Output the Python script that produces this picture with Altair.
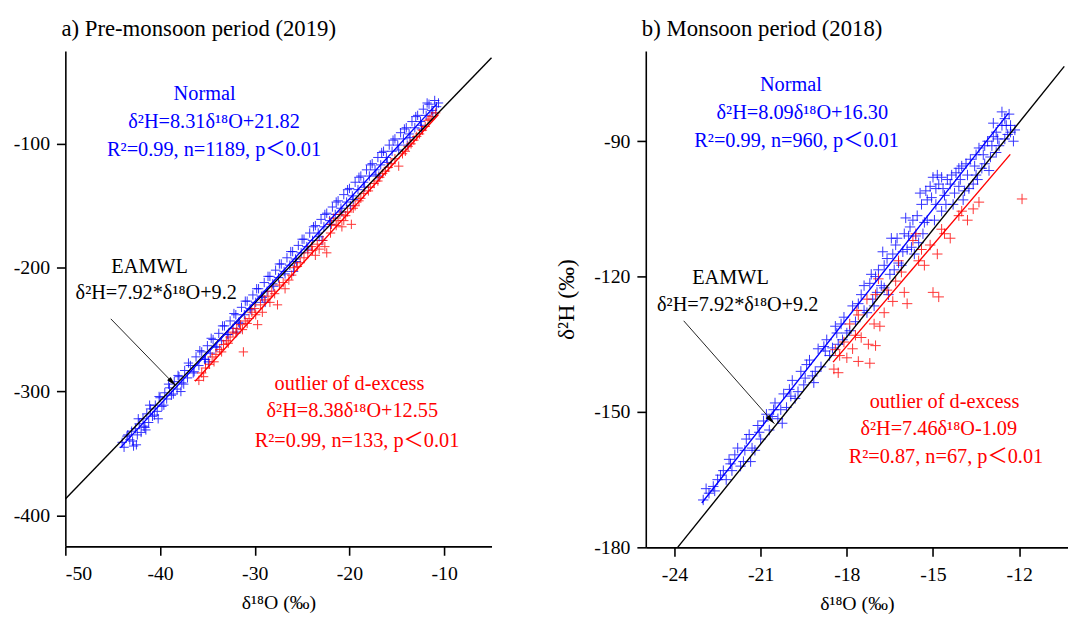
import altair as alt
import pandas as pd

SERIF = "'Liberation Serif', 'Times New Roman', 'DejaVu Serif', 'Noto Sans CJK SC', serif"
BLUE = "#0000FF"
RED = "#FF0000"
CROSS = "M-1,0L1,0M0,-1L0,1"
HEAD = "M0,0L-0.5,2L0.5,2Z"

# ---------------- data: panel a (pre-monsoon 2019) ----------------
a_blue = [
    (-44.0, -341), (-43.8, -345), (-43.5, -336), (-43.2, -339), (-43.0, -332), (-42.8, -344),
    (-42.6, -330), (-42.5, -343), (-42.4, -335), (-42.2, -326), (-42.0, -333), (-41.8, -322),
    (-41.6, -329), (-41.5, -331), (-41.4, -318), (-41.2, -325), (-41.0, -314), (-40.8, -320),
    (-40.5, -311), (-40.3, -316), (-40.2, -322), (-40.0, -305), (-39.8, -312), (-39.5, -301),
    (-39.3, -306), (-39.0, -297), (-38.8, -303), (-38.5, -292), (-38.2, -298), (-38.0, -288),
    (-37.8, -300), (-37.7, -293), (-37.4, -283), (-37.1, -289), (-36.8, -279), (-36.5, -285),
    (-36.2, -272), (-35.9, -279), (-35.6, -268), (-35.3, -274), (-35.0, -263), (-34.9, -276),
    (-34.7, -269), (-34.4, -258), (-34.1, -264), (-33.8, -253), (-33.5, -259), (-33.2, -247),
    (-32.9, -254), (-32.6, -243), (-32.3, -249), (-32.0, -238), (-31.9, -252), (-31.7, -244),
    (-31.4, -232), (-31.1, -238), (-30.8, -227), (-30.5, -233), (-30.2, -222), (-29.9, -228),
    (-29.6, -217), (-29.3, -223), (-29.0, -212), (-28.9, -228), (-28.7, -219), (-28.4, -207),
    (-28.1, -213), (-27.8, -202), (-27.5, -208), (-27.2, -197), (-26.9, -203), (-26.6, -192),
    (-26.3, -198), (-26.0, -187), (-25.9, -203), (-25.7, -193), (-25.4, -182), (-25.1, -188),
    (-24.8, -177), (-24.5, -183), (-24.2, -172), (-23.9, -178), (-23.6, -166), (-23.3, -172),
    (-23.0, -161), (-22.9, -178), (-22.7, -167), (-22.4, -156), (-22.1, -162), (-21.8, -151),
    (-21.5, -157), (-21.2, -146), (-20.9, -152), (-20.6, -141), (-20.3, -147), (-20.0, -136),
    (-19.9, -150), (-19.7, -142), (-19.4, -131), (-19.1, -137), (-18.8, -126), (-18.5, -131),
    (-18.2, -121), (-17.9, -126), (-17.6, -116), (-17.3, -121), (-17.0, -111), (-16.9, -126),
    (-16.7, -117), (-16.4, -106), (-16.1, -111), (-15.8, -101), (-15.5, -106), (-15.2, -96),
    (-14.9, -101), (-14.6, -91), (-14.3, -96), (-14.0, -87), (-13.9, -101), (-13.7, -92),
    (-13.4, -82), (-13.1, -87), (-12.8, -77), (-12.5, -82), (-12.4, -88), (-12.2, -72),
    (-11.9, -77), (-11.6, -68), (-11.3, -73), (-11.0, -65), (-10.8, -70), (-10.6, -67),
    (-43.4, -335), (-42.9, -340), (-42.3, -322), (-41.7, -328), (-41.1, -311), (-40.6, -319),
    (-40.1, -304), (-39.6, -311), (-39.1, -294), (-38.6, -302), (-38.1, -287), (-37.5, -294),
    (-37.0, -277), (-36.4, -284), (-35.8, -267), (-35.2, -274), (-34.6, -257), (-34.0, -264),
    (-33.4, -247), (-32.8, -254), (-32.2, -237), (-31.6, -245), (-31.0, -227), (-30.4, -234),
    (-29.8, -217), (-29.2, -224), (-28.6, -207), (-28.0, -215), (-27.4, -197), (-26.8, -205),
    (-26.2, -187), (-25.6, -195), (-25.0, -177), (-24.4, -185), (-23.8, -167), (-23.2, -175),
    (-22.6, -157), (-22.0, -165), (-21.4, -147), (-20.8, -155), (-20.2, -137), (-19.6, -145),
    (-19.0, -127), (-18.4, -135), (-17.8, -117), (-17.2, -125), (-16.6, -107), (-16.0, -115),
    (-15.4, -97), (-14.8, -105), (-14.2, -88), (-13.6, -95), (-13.0, -78), (-12.4, -85),
    (-11.8, -67), (-11.2, -75),
]
a_red = [
    (-35.9, -291), (-35.6, -285), (-35.2, -281), (-34.8, -278), (-34.5, -272), (-34.1, -270),
    (-33.7, -266), (-33.3, -262), (-33.0, -259), (-32.6, -256), (-32.3, -252), (-31.9, -249),
    (-31.5, -246), (-31.2, -268), (-31.0, -243), (-30.6, -241), (-30.3, -236), (-30.0, -233),
    (-29.7, -246), (-29.4, -230), (-29.0, -226), (-28.6, -223), (-28.2, -219), (-27.6, -230),
    (-27.4, -214), (-26.8, -217), (-26.4, -210), (-25.8, -200), (-25.2, -196), (-24.4, -188),
    (-24.0, -183), (-23.6, -190), (-23.2, -185), (-22.8, -178), (-22.4, -188), (-22.0, -172),
    (-21.7, -160), (-21.4, -166), (-21.0, -157), (-20.6, -162), (-20.2, -155), (-19.8, -165),
    (-19.4, -150), (-19.0, -146), (-18.5, -140), (-18.0, -138), (-17.4, -132), (-16.8, -127),
    (-16.2, -122), (-15.6, -116), (-15.2, -112), (-14.8, -118), (-14.4, -108), (-13.8, -102),
    (-13.2, -97), (-12.6, -92), (-12.0, -86), (-11.7, -81), (-11.3, -78), (-10.9, -75),
    (-35.4, -288), (-34.3, -276), (-33.5, -268), (-32.8, -261), (-32.0, -253), (-31.3, -250),
    (-30.8, -245), (-29.9, -238), (-29.2, -236), (-28.4, -228), (-27.9, -221), (-27.0, -212),
    (-26.1, -206), (-25.5, -199), (-24.8, -192), (-23.9, -186), (-23.4, -181), (-22.6, -183),
    (-21.9, -165), (-21.2, -162), (-20.8, -167), (-20.4, -158), (-19.6, -152), (-18.8, -144),
    (-17.8, -135), (-17.0, -130), (-16.5, -124), (-15.9, -119), (-14.1, -106), (-13.5, -100),
    (-12.9, -94), (-12.3, -89), (-11.5, -80),
]

# ---------------- data: panel b (monsoon 2018) ----------------
b_blue = [
    (-23.0, -169.5), (-22.8, -168), (-22.5, -165), (-22.3, -163), (-22.1, -160.5), (-22.0, -163),
    (-21.8, -158), (-21.6, -161), (-21.5, -156), (-21.3, -158), (-21.1, -153), (-21.0, -156),
    (-20.8, -150.5), (-20.7, -154), (-20.5, -148), (-20.4, -151.5), (-20.2, -146), (-20.1, -149),
    (-19.9, -143), (-19.8, -147), (-19.6, -141), (-19.5, -144), (-19.3, -138.5), (-19.2, -142),
    (-19.0, -136), (-18.9, -140), (-18.7, -134), (-18.6, -137.5), (-18.4, -131), (-18.3, -135),
    (-18.1, -129), (-18.0, -132.5), (-17.8, -126.5), (-17.7, -130), (-17.5, -124), (-17.4, -127.5),
    (-17.2, -121.5), (-17.1, -125), (-16.9, -118.5), (-16.8, -122), (-16.6, -116), (-16.5, -119.5),
    (-16.3, -113), (-16.2, -117), (-16.0, -110.5), (-15.9, -114), (-15.7, -107.5), (-15.6, -111),
    (-15.4, -104), (-15.3, -108), (-15.1, -100), (-15.0, -98), (-14.9, -104), (-14.8, -99.5),
    (-14.6, -102), (-14.5, -98.5), (-14.3, -104), (-14.2, -97), (-14.0, -95.5), (-13.9, -101),
    (-13.7, -94), (-13.6, -99.5), (-13.4, -91.5), (-13.3, -96), (-13.1, -90), (-13.0, -93.5),
    (-12.9, -86), (-12.8, -88), (-12.7, -91), (-12.6, -83.5), (-12.5, -85), (-12.4, -88.5),
    (-12.3, -86.5), (-12.2, -90),
    (-22.9, -167), (-22.6, -167.5), (-22.4, -164), (-22.2, -165), (-21.9, -159.5), (-21.7, -162),
    (-21.4, -155), (-21.2, -158.5), (-20.9, -152), (-20.6, -151), (-20.3, -149.5), (-20.0, -145),
    (-19.7, -145.5), (-19.4, -139.5), (-19.1, -141), (-18.8, -135.5), (-18.5, -135.8),
    (-18.2, -130.5), (-17.9, -132), (-17.6, -126), (-17.3, -128), (-17.0, -120), (-16.7, -122.5),
    (-16.4, -115), (-16.1, -117.5), (-15.8, -109), (-15.5, -112.5), (-15.2, -103), (-15.2, -107.5),
    (-14.9, -100.5), (-14.7, -98), (-14.7, -105.5), (-14.4, -99.5), (-14.1, -100), (-14.1, -96),
    (-13.8, -97.5), (-13.5, -93), (-13.5, -97.5), (-13.2, -91), (-13.2, -95), (-12.9, -89),
    (-12.8, -92.5), (-12.6, -86.5), (-12.5, -89.5), (-12.35, -84), (-12.3, -88), (-17.05, -126.5),
    (-18.15, -134), (-19.15, -143.5), (-20.25, -152.5), (-21.35, -161), (-16.55, -124),
    (-15.75, -113.5), (-13.95, -103), (-15.45, -101.5), (-15.95, -107), (-16.45, -111.5),
    (-16.75, -114.5),
    (-17.4, -122), (-17.15, -119.5), (-16.95, -123.5), (-16.7, -117.5), (-16.35, -118.5),
    (-16.25, -111.5), (-16.05, -114.5), (-15.85, -111), (-15.65, -115), (-15.55, -106.5),
    (-15.35, -110.5), (-15.25, -101), (-15.05, -102.5), (-14.95, -107.5), (-14.85, -97.5),
    (-14.65, -100.5), (-14.55, -104), (-14.35, -97.5), (-14.25, -101.5), (-14.05, -98.5),
    (-13.85, -95), (-13.75, -100.5), (-13.55, -95.5), (-13.45, -98.5), (-13.25, -93),
    (-13.05, -96.5), (-12.95, -91), (-12.75, -89.5), (-12.45, -86.5), (-12.15, -87.5),
    (-18.35, -132.5), (-18.75, -136.5), (-19.45, -142.5), (-19.95, -146.5), (-20.55, -149.5),
    (-21.05, -154.5), (-21.55, -158.5), (-22.05, -161.5), (-22.65, -166.5),
]
b_red = [
    (-11.9, -102.8), (-13.6, -105), (-14.1, -106.5), (-13.8, -107.5), (-14.7, -109.5),
    (-14.4, -111.5), (-15.1, -113), (-14.85, -115), (-15.5, -116.5), (-15.3, -117.5),
    (-16.3, -121), (-16.0, -123.5), (-15.0, -123.5), (-14.8, -124.5), (-16.4, -125.5),
    (-15.9, -126), (-17.0, -124), (-16.6, -123), (-17.65, -127.5), (-17.6, -128.5),
    (-17.05, -130.5), (-16.85, -131), (-17.7, -133), (-17.5, -133.5), (-17.25, -135),
    (-17.0, -135.3), (-18.4, -136.2), (-18.25, -137.5), (-18.0, -138), (-17.6, -138.8),
    (-17.2, -139.2), (-18.45, -140.5), (-18.3, -141.3), (-15.7, -112), (-15.6, -110.5),
    (-16.2, -116.5), (-16.9, -120.5), (-17.3, -125), (-17.9, -130.5), (-16.7, -128),
    (-18.1, -134.5), (-17.8, -136), (-16.1, -119), (-15.4, -114), (-14.6, -110.5),
    (-14.0, -105.5), (-13.4, -103.5),
]

# fitted lines: (slope, intercept, x_start, x_end, colour)
a_lines = [(7.92, 9.2, -50.0, -5.0, "black"), (8.31, 21.82, -44.2, -10.8, BLUE),
           (8.38, 12.55, -36.3, -10.6, RED)]
b_lines = [(7.92, 9.2, -23.89, -10.43, "black"), (8.09, 16.30, -23.05, -12.37, BLUE),
           (7.46, -1.09, -18.48, -12.31, RED)]

a_text = ["Normal", "δ²H=8.31δ¹⁸O+21.82", "R²=0.99, n=1189, p＜0.01",
          "EAMWL", "δ²H=7.92*δ¹⁸O+9.2",
          "outlier of d-excess", "δ²H=8.38δ¹⁸O+12.55", "R²=0.99, n=133, p＜0.01"]
b_text = ["Normal", "δ²H=8.09δ¹⁸O+16.30", "R²=0.99, n=960, p＜0.01",
          "EAMWL", "δ²H=7.92*δ¹⁸O+9.2",
          "outlier of d-excess", "δ²H=7.46δ¹⁸O-1.09", "R²=0.87, n=67, p＜0.01"]
text_colors = [BLUE, BLUE, BLUE, "black", "black", RED, RED, RED]

a_text_pos = [(-35.3, -59.8), (-34.3, -82.2), (-34.3, -105.4), (-41.1, -199.5), (-40.4, -220.3),
              (-20.0, -293.8), (-19.7, -316.1), (-19.2, -340.0)]
b_text_pos = [(-19.95, -77.5), (-19.55, -83.7), (-19.75, -90.0), (-22.05, -120.3), (-21.8, -126.4),
              (-14.6, -147.7), (-14.8, -153.9), (-14.55, -160.1)]
a_arrow = (-45.2, -241.3, -38.34, -295.3)
b_arrow = (-23.68, -129.8, -20.52, -152.6)

LABEL_EXPR = "'' + datum.value"


def panel(title, dx, blue, red, lines, texts, pos, arrow, xdom, ydom, xticks, yticks,
          width, height, ytitle, psize):
    xs = alt.Scale(domain=xdom, nice=False, zero=False)
    ys = alt.Scale(domain=ydom, nice=False, zero=False)
    xax = alt.Axis(values=xticks, title="δ¹⁸O (‰)", labelPadding=9, titlePadding=9,
                   labelExpr=LABEL_EXPR)
    yax = alt.Axis(values=yticks, title=ytitle, labelPadding=7, titlePadding=15,
                   titleFontSize=24, labelExpr=LABEL_EXPR)
    X = alt.X("x:Q", scale=xs, axis=xax)
    Y = alt.Y("y:Q", scale=ys, axis=yax)

    rows = []
    for i, (m, c, x0, x1, col) in enumerate(lines):
        rows.append({"x": x0, "y": m * x0 + c, "id": i, "col": col})
        rows.append({"x": x1, "y": m * x1 + c, "id": i, "col": col})
    ldf = pd.DataFrame(rows)

    bdf = pd.DataFrame(blue, columns=["x", "y"])
    rdf = pd.DataFrame(red, columns=["x", "y"])
    tdf = pd.DataFrame({"x": [p[0] for p in pos], "y": [p[1] for p in pos],
                        "t": texts, "col": text_colors})
    adf = pd.DataFrame({"x": [arrow[0]], "y": [arrow[1]], "x2": [arrow[2]], "y2": [arrow[3]]})

    pts_b = alt.Chart(bdf).mark_point(shape=CROSS, filled=False, size=psize, strokeWidth=1,
                                      color=BLUE, opacity=0.8).encode(x=X, y=Y)
    pts_r = alt.Chart(rdf).mark_point(shape=CROSS, filled=False, size=psize, strokeWidth=1,
                                      color=RED, opacity=0.8).encode(x=X, y=Y)
    lns = alt.Chart(ldf).mark_line(strokeWidth=1.4).encode(
        x=X, y=Y, detail="id:N", color=alt.Color("col:N", scale=None))
    arr = alt.Chart(adf).mark_rule(strokeWidth=1, color="#222222").encode(
        x=X, y=Y, x2="x2:Q", y2="y2:Q")
    head = alt.Chart(adf).mark_point(shape=HEAD, filled=True, size=100, opacity=1,
                                     color="black", angle=136).encode(
        x=alt.X("x2:Q", scale=xs, axis=xax), y=alt.Y("y2:Q", scale=ys, axis=yax))
    txt = alt.Chart(tdf).mark_text(font=SERIF, fontSize=20.5, baseline="middle",
                                   align="center").encode(
        x=X, y=Y, text="t:N", color=alt.Color("col:N", scale=None))

    return alt.layer(pts_b, pts_r, lns, arr, head, txt).properties(
        width=width, height=height,
        title=alt.TitleParams(title, anchor="start", frame="group", font=SERIF,
                              fontSize=23, fontWeight="normal", color="black",
                              baseline="alphabetic", offset=-8, dx=dx))


pa = panel("a) Pre-monsoon period (2019)", -4, a_blue, a_red, a_lines, a_text, a_text_pos,
           a_arrow, [-50, -5], [-425, -25], [-50, -40, -30, -20, -10],
           [-400, -300, -200, -100], 431, 501, None, 90)
pb = panel("b) Monsoon period (2018)", -4, b_blue, b_red, b_lines, b_text, b_text_pos,
           b_arrow, [-25, -10.3], [-180, -70], [-24, -21, -18, -15, -12],
           [-180, -150, -120, -90], 427, 502, "δ²H (‰)", 110)

chart = alt.hconcat(pa, pb, spacing=61).properties(
    padding={"left": 5, "top": 7, "right": 0, "bottom": 0}
).configure_view(stroke=None).configure_axis(
    grid=False, domainColor="black", domainWidth=1.6, tickColor="black", tickWidth=1.6,
    tickSize=9, labelFont=SERIF, labelFontSize=20, labelColor="black",
    titleFont=SERIF, titleFontSize=20, titleFontWeight="normal", titleColor="black"
)

chart.save("out.html", embed_options={"renderer": "svg", "actions": False})
